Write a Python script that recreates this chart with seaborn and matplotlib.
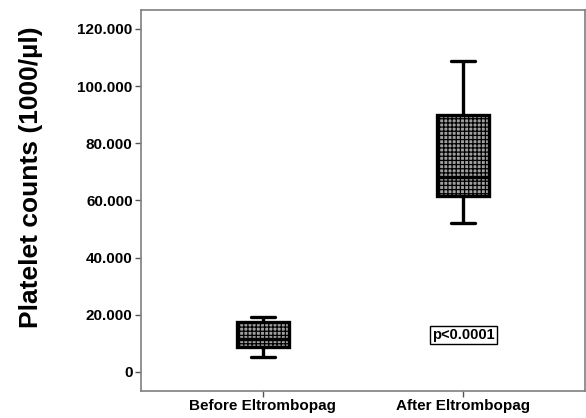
import pandas as pd
import matplotlib
matplotlib.use("Agg")
import matplotlib.pyplot as plt
import seaborn as sns

# valores (x1000/µl): min, Q1, mediana, Q3, max
grupos = ["Before Eltrombopag", "After Eltrombopag"]
antes = [5.2, 8.8, 11.5, 17.4, 19.3]
depois = [52.2, 61.5, 68.3, 90.0, 108.9]
ticks_y = [0, 20, 40, 60, 80, 100, 120]
rotulos_y = ["0", "20.000", "40.000", "60.000", "80.000", "100.000", "120.000"]

df = pd.DataFrame({
    "grupo": [grupos[0]] * len(antes) + [grupos[1]] * len(depois),
    "plaquetas": antes + depois,
})

sns.set_theme(style="white")
plt.rcParams["font.family"] = ["Liberation Sans", "DejaVu Sans"]
plt.rcParams["font.weight"] = "bold"
plt.rcParams["text.color"] = "black"
plt.rcParams["axes.labelcolor"] = "black"
plt.rcParams["hatch.linewidth"] = 0.9
plt.rcParams["hatch.color"] = "#303030"

fig, ax = plt.subplots(figsize=(5.86, 4.18), dpi=100)
fig.subplots_adjust(left=0.2406, right=0.998, top=0.976, bottom=0.065)

sns.boxplot(data=df, x="grupo", y="plaquetas", order=grupos, width=0.26,
            color="#b0b0b0", linecolor="black", linewidth=2.4, whis=1.5,
            fliersize=0, ax=ax)

for caixa in ax.patches:
    caixa.set_hatch("++++")
    caixa.set_facecolor("#a0a0a0")

# tampas dos bigodes um pouco mais curtas
for linha in ax.lines:
    xs = linha.get_xdata()
    if len(xs) == 2 and abs(xs[1] - xs[0]) > 0.01 and abs(xs[1] - xs[0]) < 0.2:
        meio = (xs[0] + xs[1]) / 2
        linha.set_xdata([meio - 0.06, meio + 0.06])

ax.set_xlim(-0.607, 1.607)
ax.set_ylim(-6.6, 126.6)
ax.set_yticks(ticks_y)
ax.set_yticklabels(rotulos_y)
ax.set_xlabel("")
ax.set_ylabel("Platelet counts (1000/\u00b5l)", fontsize=19, fontweight="bold")
ax.yaxis.set_label_coords(-0.22, 0.56)
ax.tick_params(axis="both", labelsize=11, length=4, width=1, color="#555555",
               labelcolor="black", left=True, bottom=True, pad=2)
for lado in ["left", "bottom", "top", "right"]:
    ax.spines[lado].set_color("#7f7f7f")
    ax.spines[lado].set_linewidth(1.2)

ax.text(1, 12.9, "p<0.0001", ha="center", va="center", fontsize=10.5, fontweight="bold",
        bbox=dict(boxstyle="square,pad=0.15", facecolor="white", edgecolor="black", linewidth=1))

plt.savefig("out.png", dpi=100)
